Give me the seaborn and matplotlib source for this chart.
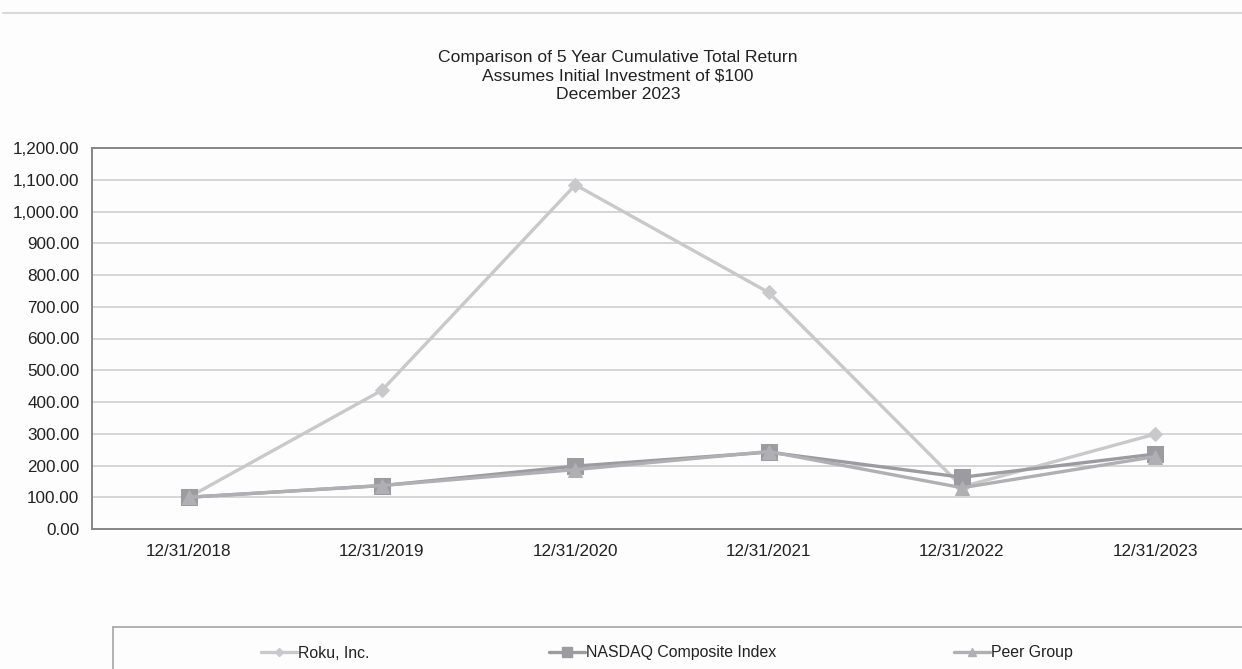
import matplotlib
matplotlib.use("Agg")
import matplotlib.pyplot as plt
import seaborn as sns
import pandas as pd
from matplotlib.lines import Line2D
from matplotlib.ticker import StrMethodFormatter

dates = ["12/31/2018", "12/31/2019", "12/31/2020", "12/31/2021", "12/31/2022", "12/31/2023"]
roku = [100.00, 437.00, 1084.00, 745.00, 133.00, 299.00]
nasdaq = [100.00, 136.70, 198.00, 242.00, 163.00, 236.00]
peer = [100.00, 137.00, 187.00, 244.00, 130.00, 228.00]
series_names = ["Roku, Inc.", "NASDAQ Composite Index", "Peer Group"]
yticks = [0, 100, 200, 300, 400, 500, 600, 700, 800, 900, 1000, 1100, 1200]
title_lines = ["Comparison of 5 Year Cumulative Total Return",
               "Assumes Initial Investment of $100",
               "December 2023"]

sns.set_theme(style="white")
plt.rcParams["font.family"] = ["Liberation Sans", "DejaVu Sans"]

colors = {"Roku, Inc.": "#c9c9cb", "NASDAQ Composite Index": "#9b9ba0", "Peer Group": "#b0b0b4"}
markers = {"Roku, Inc.": "D", "NASDAQ Composite Index": "s", "Peer Group": "^"}
msizes = {"Roku, Inc.": 7, "NASDAQ Composite Index": 11.5, "Peer Group": 10.5}

fig = plt.figure(figsize=(12.42, 6.69), dpi=100, facecolor="#fdfdfd")
ax = fig.add_axes([92/1242, 1-529/669, (1252-92)/1242, (529-148)/669])
ax.set_facecolor("#fdfdfd")

idx = list(range(len(dates)))
for name, vals in zip(series_names, [roku, nasdaq, peer]):
    df = pd.DataFrame({"x": idx, "y": vals})
    sns.lineplot(data=df, x="x", y="y", ax=ax, color=colors[name], lw=2.4,
                 marker=markers[name], markersize=msizes[name],
                 markeredgecolor=colors[name], legend=False, zorder=3)

ax.set_xlim(-0.5, len(dates) - 0.5)
ax.set_ylim(0, 1200)
ax.set_yticks(yticks)
ax.yaxis.set_major_formatter(StrMethodFormatter("{x:,.2f}"))
ax.set_xticks(idx)
ax.set_xticklabels(dates)
ax.set_xlabel("")
ax.set_ylabel("")
ax.grid(axis="y", color="#cfcfcf", lw=1.2, zorder=0)
ax.grid(axis="x", visible=False)
for s in ["left", "bottom", "top"]:
    ax.spines[s].set_color("#858585")
    ax.spines[s].set_linewidth(1.4)
ax.spines["right"].set_visible(False)
ax.tick_params(axis="both", which="both", direction="out", length=5, width=1,
               color="#9a9a9a", labelsize=12.3, labelcolor="#222222", pad=4)
ax.tick_params(axis="x", pad=6)

for i, t in enumerate(title_lines):
    fig.text(0.4975, 1 - (62 + i * 18.5) / 669, t, ha="center", va="baseline",
             fontsize=12.6, color="#222222")

# top separator line
fig.add_artist(Line2D([3/1242, 1.0], [1-13/669, 1-13/669], color="#d9d9d9", lw=1.5,
                      transform=fig.transFigure))
# legend box lines
fig.add_artist(Line2D([113/1242, 1.0], [1-627/669, 1-627/669], color="#a5a5a5", lw=1.2,
                      transform=fig.transFigure))
fig.add_artist(Line2D([113/1242, 113/1242], [1-627/669, 0], color="#a5a5a5", lw=1.2,
                      transform=fig.transFigure))

leg_x = {"Roku, Inc.": 261, "NASDAQ Composite Index": 549, "Peer Group": 954}
for name in series_names:
    h = Line2D([], [], color=colors[name], lw=2.4, marker=markers[name],
               markersize=msizes[name] * 0.6, markeredgecolor=colors[name])
    fig.legend(handles=[h], labels=[name], loc="center left",
               bbox_to_anchor=(leg_x[name]/1242, 1-653/669), frameon=False,
               fontsize=11.4, handlelength=2.3, handletextpad=0.05,
               borderpad=0, borderaxespad=0, labelcolor="#222222")

fig.savefig("out.png", dpi=100, facecolor=fig.get_facecolor())
